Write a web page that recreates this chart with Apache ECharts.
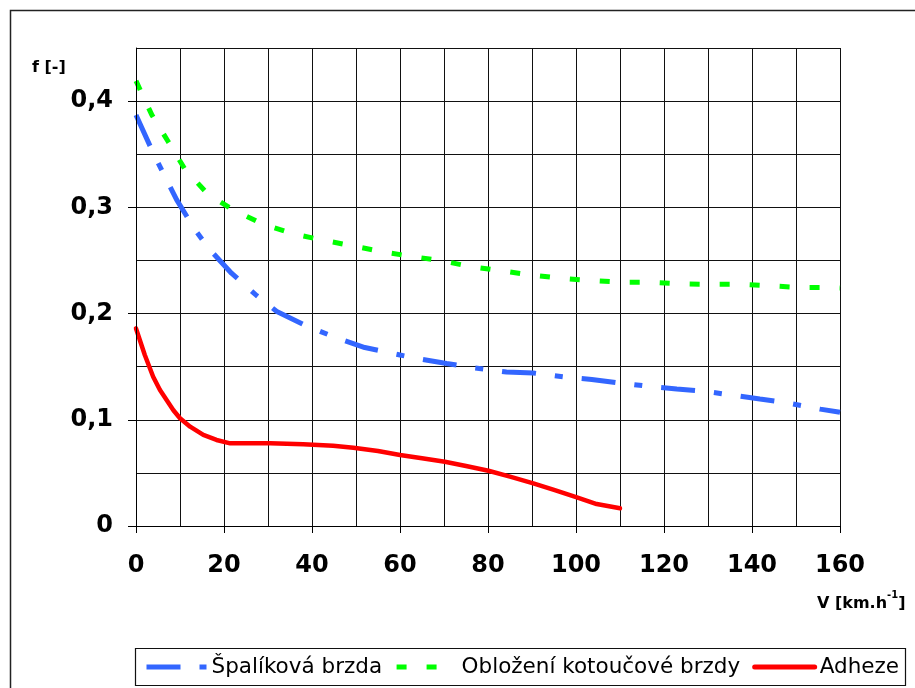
<!DOCTYPE html>
<html>
<head>
<meta charset="utf-8">
<script src="https://cdn.jsdelivr.net/npm/echarts@6/dist/echarts.min.js"></script>
<style>html,body{margin:0;padding:0;background:#fff}#c{width:915px;height:688px}</style>
</head>
<body>
<div id="c"></div>
<script>
const seriesNames = ['Špalíková brzda', 'Obložení kotoučové brzdy', 'Adheze'];
const xTicks = [0, 20, 40, 60, 80, 100, 120, 140, 160];
const yTicks = [0, 0.1, 0.2, 0.3, 0.4];

const blueV = [0, 3.6, 6.2, 9.25, 13.4, 16.8, 21.7, 27.4, 32, 38.4, 45.6, 52, 60, 64.9, 70.6, 76.7, 84.2, 90.3, 97.9, 103.6, 109.2, 117.6, 122.9, 128.9, 135.8, 141.8, 147.9, 155.5, 160];
const blueF = [0.387, 0.354, 0.332, 0.307, 0.279, 0.26, 0.238, 0.217, 0.202, 0.189, 0.177, 0.168, 0.161, 0.157, 0.153, 0.149, 0.145, 0.144, 0.140, 0.138, 0.135, 0.131, 0.129, 0.127, 0.123, 0.1195, 0.116, 0.110, 0.107];

const greenV = [0, 3.6, 7.3, 11.1, 16.2, 22.1, 28.9, 35.8, 42.6, 49.4, 56.2, 63, 69.8, 76.3, 83.5, 90.3, 97.1, 103.7, 110.4, 117.2, 124.2, 130.8, 137.7, 144.5, 151.3, 158.1, 160];
const greenF = [0.419, 0.387, 0.362, 0.336, 0.313, 0.2975, 0.284, 0.275, 0.269, 0.2636, 0.258, 0.2535, 0.2495, 0.244, 0.24, 0.236, 0.233, 0.231, 0.2295, 0.2295, 0.228, 0.2275, 0.2275, 0.226, 0.2245, 0.2245, 0.224];

const redV = [0, 2, 3.9, 5.45, 8.5, 10, 12.3, 15.3, 18.3, 21.4, 30.5, 38, 44.8, 49.4, 55, 60, 65, 70.2, 75, 80.1, 85, 90.3, 95, 100.2, 104.7, 110];
const redF = [0.186, 0.161, 0.1405, 0.128, 0.109, 0.1014, 0.0935, 0.0857, 0.081, 0.0778, 0.0778, 0.0769, 0.0756, 0.0737, 0.0706, 0.0668, 0.0637, 0.0605, 0.0565, 0.052, 0.0465, 0.0402, 0.034, 0.027, 0.0207, 0.0167];

const pairs = (xs, ys) => xs.map((x, i) => [x, ys[i]]);
const FONT = 'DejaVu Sans';
const GRID_LINE = {show: true, lineStyle: {color: '#111', width: 1}};

const chart = echarts.init(document.getElementById('c'), null, {renderer: 'canvas'});
chart.setOption({
  animation: false,
  backgroundColor: '#fff',
  grid: {left: 136, right: 75, top: 48, bottom: 162, containLabel: false},
  xAxis: [{
    type: 'value', min: 0, max: 160, interval: 20, z: 5,
    axisLine: {lineStyle: {color: '#000', width: 1}},
    axisTick: {show: true, length: 7, lineStyle: {color: '#000'}},
    axisLabel: {margin: 28, color: '#000', fontFamily: FONT, fontWeight: 'bold', fontSize: 24},
    splitLine: {show: false}
  }, {
    type: 'value', min: 0, max: 160, interval: 10, position: 'bottom',
    axisLine: {show: false}, axisTick: {show: false}, axisLabel: {show: false},
    splitLine: GRID_LINE
  }],
  yAxis: [{
    type: 'value', min: 0, max: 0.45, interval: 0.05, z: 5,
    axisLine: {show: true, lineStyle: {color: '#000', width: 1}},
    axisTick: {show: true, customValues: yTicks, length: 8, lineStyle: {color: '#000'}},
    axisLabel: {customValues: yTicks, margin: 23, color: '#000', fontFamily: FONT, fontWeight: 'bold', fontSize: 24,
      formatter: v => String(v).replace('.', ',')},
    splitLine: {show: false}
  }, {
    type: 'value', min: 0, max: 0.45, interval: 0.05, position: 'left',
    axisLine: {show: false}, axisTick: {show: false}, axisLabel: {show: false},
    splitLine: GRID_LINE
  }],
  legend: {
    left: 144, top: 656, padding: 0, itemWidth: 60, itemHeight: 12, itemGap: 12,
    itemStyle: {opacity: 0},
    lineStyle: {width: 5},
    textStyle: {fontFamily: FONT, fontSize: 21.5, color: '#000'},
    data: seriesNames
  },
  graphic: [
    {type: 'rect', z: -10, shape: {x: 10.5, y: 10.5, width: 920, height: 700}, style: {fill: 'none', stroke: '#222', lineWidth: 1.5}, silent: true},
    {type: 'rect', z: 0, shape: {x: 135.5, y: 648.5, width: 770, height: 37}, style: {fill: '#fff', stroke: '#111', lineWidth: 1.2}, silent: true},
    {type: 'text', x: 32, y: 60, style: {text: 'f [-]', font: 'bold 16px "DejaVu Sans"', fill: '#000'}, silent: true},
    {type: 'text', x: 817, y: 590, style: {
      text: '{a|V [km.h}{b|-1}{a|]}',
      rich: {
        a: {fontFamily: FONT, fontWeight: 'bold', fontSize: 16, lineHeight: 22, verticalAlign: 'bottom', fill: '#000'},
        b: {fontFamily: FONT, fontWeight: 'bold', fontSize: 10, lineHeight: 22, verticalAlign: 'top', fill: '#000'}
      }, fill: '#000'}, silent: true}
  ],
  series: [
    {name: seriesNames[0], type: 'line', symbol: 'none', smooth: false, z: 3,
     lineStyle: {color: '#3366ff', width: 5, type: [34, 19, 8, 19], cap: 'butt'},
     itemStyle: {color: '#3366ff'},
     data: pairs(blueV, blueF)},
    {name: seriesNames[1], type: 'line', symbol: 'none', smooth: false, z: 3,
     lineStyle: {color: '#00ff00', width: 5, type: [10, 20], cap: 'butt'},
     itemStyle: {color: '#00ff00'},
     data: pairs(greenV, greenF)},
    {name: seriesNames[2], type: 'line', symbol: 'none', smooth: false, z: 3,
     lineStyle: {color: '#ff0000', width: 4.5, type: 'solid', cap: 'round', join: 'round'},
     itemStyle: {color: '#ff0000'},
     data: pairs(redV, redF)}
  ]
});
</script>
</body>
</html>
